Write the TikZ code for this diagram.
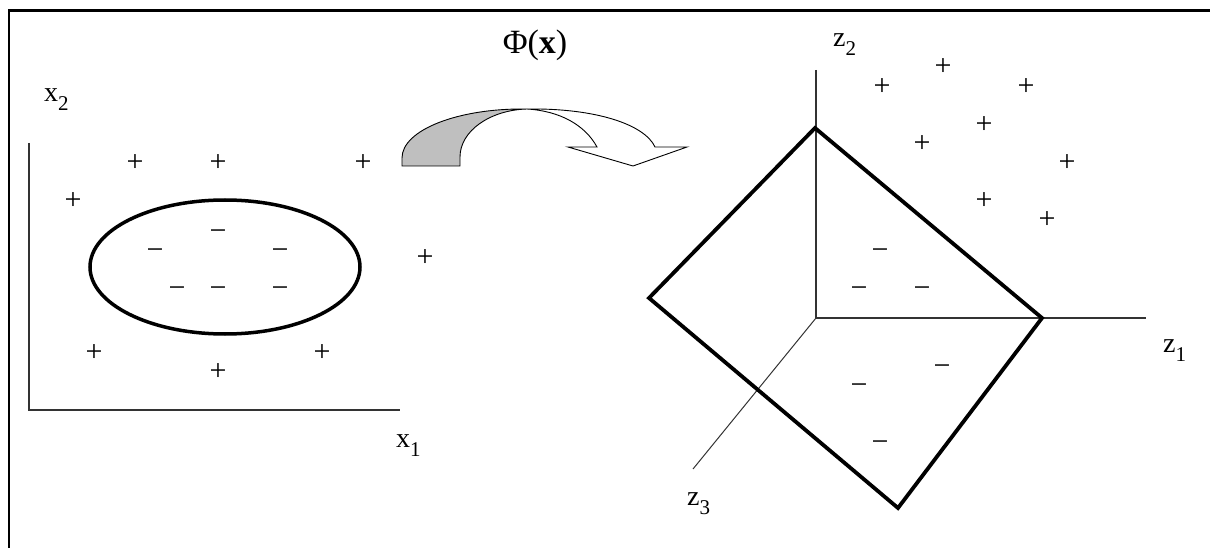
\documentclass[tikz,border=0pt]{standalone}
\usepackage{fontspec}
\setmainfont{Liberation Serif}
\newcommand\lsub[1]{\raisebox{-9pt}{\fontsize{21}{21}\selectfont #1}}
\begin{document}
\begin{tikzpicture}[x=1pt,y=-1pt,
  frame/.style={line width=2.8pt, draw=black},
  ax/.style={line width=1.3pt, draw=black!80},
  thick3/.style={line width=3.8pt, line join=miter, draw=black},
  pt/.style={inner sep=0pt, text height=0.5em, text depth=0pt, font=\fontsize{30}{30}\selectfont},
  lbl/.style={inner sep=0pt, anchor=base west, font=\fontsize{28}{28}\selectfont},
  arrowpart/.style={line width=0.9pt, draw=black, line join=miter},
]
\useasboundingbox (0,0) rectangle (1210,548);
% frame
\coordinate (fa) at (9,550);
\coordinate (fb) at (9,10.5);
\coordinate (fc) at (1212,10.5);
\draw[frame] (fa) -- (fb) -- (fc);

% left panel axes
\coordinate (x2top) at (29,143);
\coordinate (xo) at (29,410);
\coordinate (x1end) at (400,410);
\draw[ax] (x2top) -- (xo) -- (x1end);
\node[lbl] (x2lab) at (44,102) {x\lsub{2}};
\node[lbl] (x1lab) at (396,447) {x\lsub{1}};

% ellipse
\draw[line width=3.5pt] (225,267) ellipse [x radius=135, y radius=67];

% plus points left
\foreach \n/\px/\py in {a/135/169, b/218/169, c/363/169, d/73/207, e/425/264, f/94/359, g/322/359, h/218/378}
  \node[pt] (lp\n) at (\px,\py) {+};
% minus points left
\foreach \n/\px/\py in {a/218/238, b/155/257, c/280/257, d/177/295, e/218/295, f/280/295}
  \node[pt] (lm\n) at (\px,\py) {−};

% mapping arrow
\node[inner sep=0pt, font=\fontsize{34}{34}\selectfont] (phi) at (535,45) {Φ(\textbf{x})};
\coordinate (J) at (527,109);
\draw[arrowpart, fill=black!25] (402,166) -- (402,158) .. controls (402,130) and (458,108) .. (J)
  .. controls (490,110) and (460,131) .. (460,157) -- (460,166) -- cycle;
\draw[arrowpart, fill=white] (J) .. controls (597,108) and (645,125) .. (655,147)
  -- (687,147) -- (633,166) -- (568,147) -- (597,147)
  .. controls (585,125) and (560,111) .. (J);

% right panel axes
\coordinate (zo) at (816,318);
\coordinate (z2top) at (816,70);
\coordinate (z1end) at (1146,318);
\coordinate (z3end) at (693,469);
\draw[ax] (z2top) -- (zo) -- (z1end);
\draw[line width=1pt, draw=black!80] (zo) -- (z3end);
\node[lbl] (z2lab) at (833,47) {z\lsub{2}};
\node[lbl] (z1lab) at (1163,352) {z\lsub{1}};
\node[lbl] (z3lab) at (687,505) {z\lsub{3}};

% plane
\coordinate (dT) at (815,128);
\coordinate (dR) at (1042,318);
\coordinate (dB) at (898,508);
\coordinate (dL) at (649,298);
\draw[thick3] (dT) -- (dR) -- (dB) -- (dL) -- cycle;

% plus points right
\foreach \n/\px/\py in {a/882/93, b/943/73, c/1026/93, d/984/131, e/922/150, f/1067/169, g/984/207, h/1047/226}
  \node[pt] (rp\n) at (\px,\py) {+};
% minus points right
\foreach \n/\px/\py in {a/880/257, b/859/295, c/922/295, d/942/373, e/859/392, f/880/449}
  \node[pt] (rm\n) at (\px,\py) {−};
\end{tikzpicture}
\end{document}
